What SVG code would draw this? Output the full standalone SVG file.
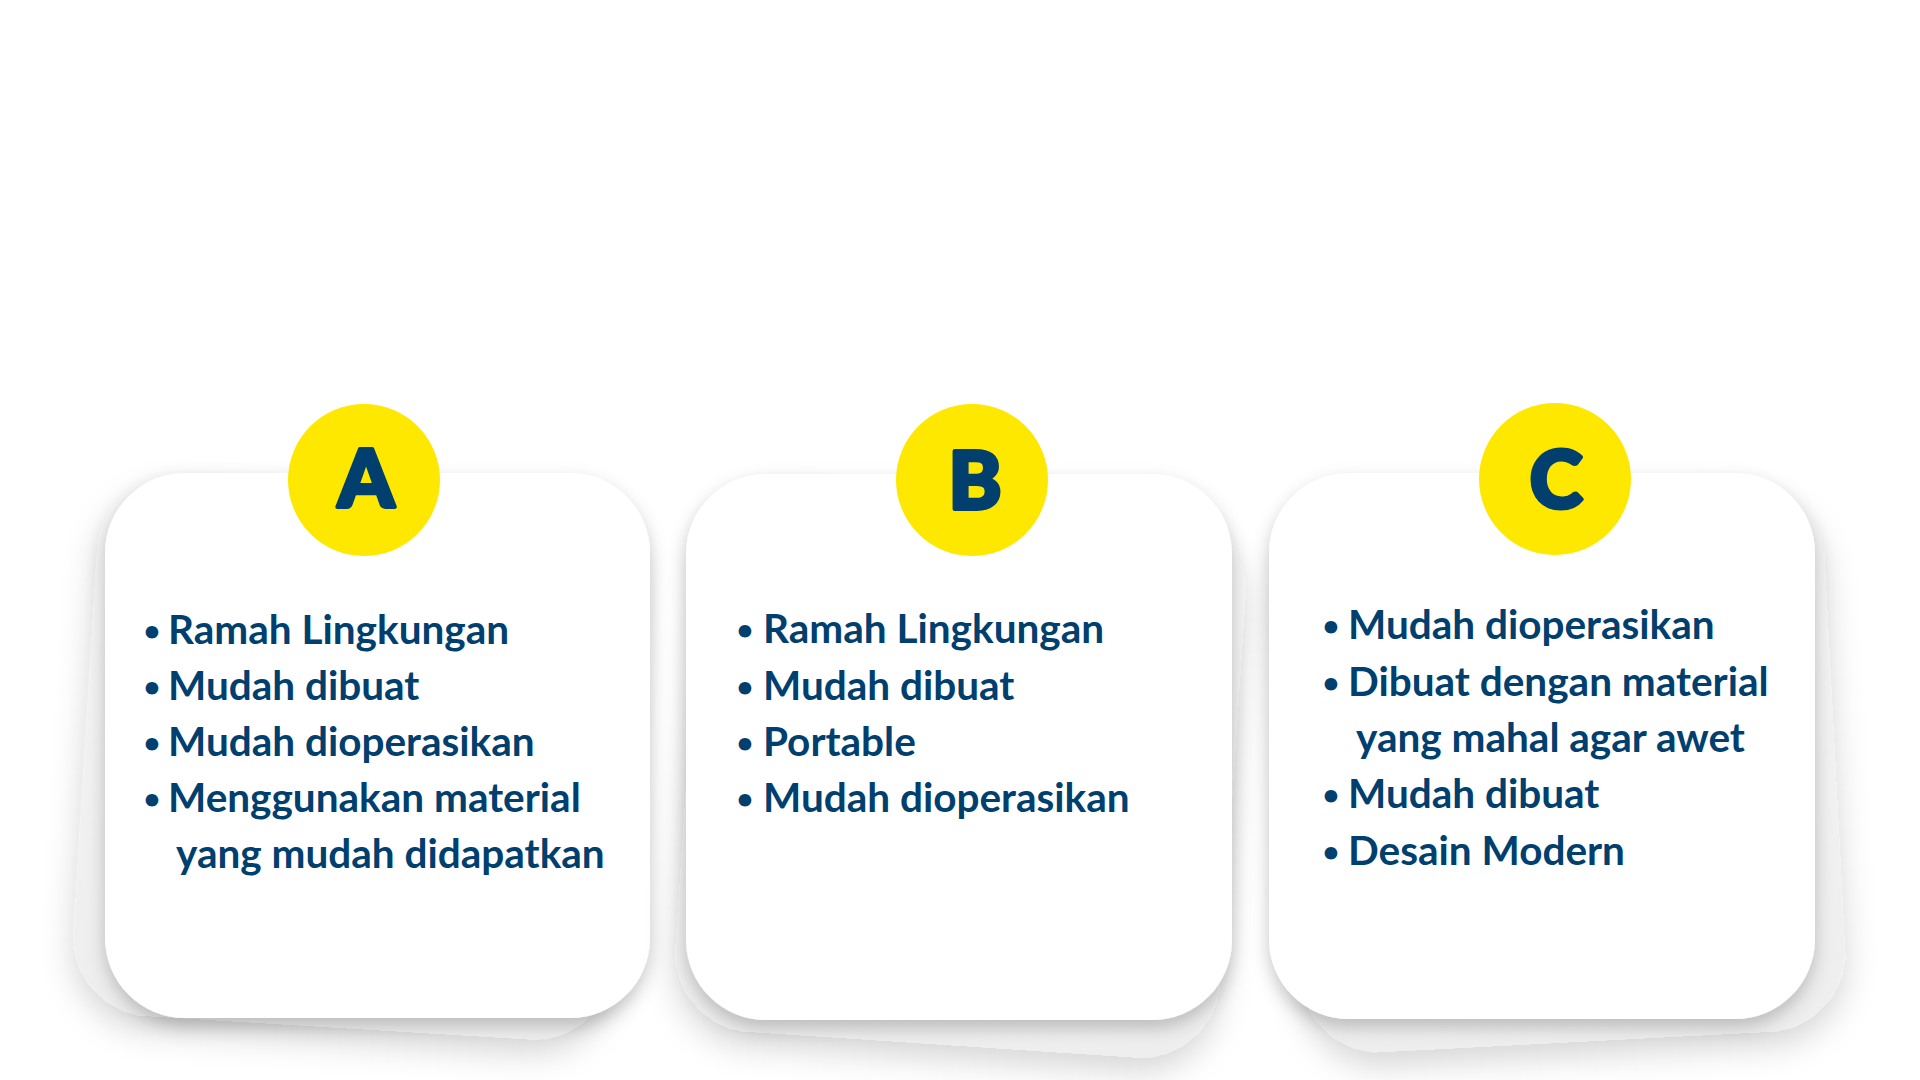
<svg xmlns="http://www.w3.org/2000/svg" width="1920" height="1080" viewBox="0 0 1920 1080">
  <defs>
    <filter id="shadowFront" x="-20%" y="-20%" width="140%" height="145%">
      <feDropShadow dx="0" dy="8" stdDeviation="9" flood-color="#000" flood-opacity="0.22"/>
    </filter>
    <filter id="shadowBack" x="-20%" y="-20%" width="140%" height="150%">
      <feDropShadow dx="0" dy="14" stdDeviation="16" flood-color="#000" flood-opacity="0.16"/>
    </filter>
    <linearGradient id="backFill" x1="0" y1="0" x2="0" y2="1">
      <stop offset="0" stop-color="#f5f5f5"/>
      <stop offset="1" stop-color="#eeeeee"/>
    </linearGradient>
  </defs>
  <style>
    .back { fill: url(#backFill); filter: url(#shadowBack); }
    .front { fill: #ffffff; filter: url(#shadowFront); }
    .badge { fill: #FFE800; }
    .letter { font-family: "Lato", "Liberation Sans", sans-serif; font-weight: 900; font-size: 80px; fill: #003F6E; stroke: #003F6E; stroke-width: 4; stroke-linejoin: round; text-anchor: middle; }
    .item { font-family: "Lato", "Liberation Sans", sans-serif; font-weight: 700; font-size: 40.5px; fill: #003F6E; }
    .bullet { font-family: "Lato", "Liberation Sans", sans-serif; font-weight: 700; font-size: 29px; fill: #003F6E; text-anchor: middle; }
  </style>
  <rect width="1920" height="1080" fill="#ffffff"/>

  <g id="card-a">
    <rect class="back" x="85" y="488" width="540" height="540" rx="80" transform="rotate(3.5 355 758)"/>
    <rect class="front" x="105" y="473" width="545" height="545" rx="80"/>
    <circle class="badge" cx="364" cy="480" r="76"/>
    <text class="letter" x="366" y="507">A</text>
    <text class="bullet" x="152" y="641">•</text>
    <text class="item" x="168" y="644">Ramah Lingkungan</text>
    <text class="bullet" x="152" y="697">•</text>
    <text class="item" x="168" y="700">Mudah dibuat</text>
    <text class="bullet" x="152" y="753">•</text>
    <text class="item" x="168" y="756">Mudah dioperasikan</text>
    <text class="bullet" x="152" y="809">•</text>
    <text class="item" x="168" y="812">Menggunakan material</text>
    <text class="item" x="176" y="868">yang mudah didapatkan</text>
  </g>

  <g id="card-b">
    <rect class="back" x="688" y="500" width="545" height="545" rx="80" transform="rotate(3.8 960 772)"/>
    <rect class="front" x="686" y="474" width="546" height="546" rx="80"/>
    <circle class="badge" cx="972" cy="480" r="76"/>
    <text class="letter" x="975" y="509">B</text>
    <text class="bullet" x="745" y="640">•</text>
    <text class="item" x="763" y="643">Ramah Lingkungan</text>
    <text class="bullet" x="745" y="697">•</text>
    <text class="item" x="763" y="700">Mudah dibuat</text>
    <text class="bullet" x="745" y="753">•</text>
    <text class="item" x="763" y="756">Portable</text>
    <text class="bullet" x="745" y="809">•</text>
    <text class="item" x="763" y="812">Mudah dioperasikan</text>
  </g>

  <g id="card-c">
    <rect class="back" x="1290" y="497" width="545" height="545" rx="80" transform="rotate(-3 1562 769)"/>
    <rect class="front" x="1269" y="473" width="546" height="546" rx="80"/>
    <circle class="badge" cx="1555" cy="479" r="76"/>
    <text class="letter" x="1556" y="508">C</text>
    <text class="bullet" x="1331" y="636">•</text>
    <text class="item" x="1348" y="639">Mudah dioperasikan</text>
    <text class="bullet" x="1331" y="693">•</text>
    <text class="item" x="1348" y="696">Dibuat dengan material</text>
    <text class="item" x="1356" y="752">yang mahal agar awet</text>
    <text class="bullet" x="1331" y="805">•</text>
    <text class="item" x="1348" y="808">Mudah dibuat</text>
    <text class="bullet" x="1331" y="862">•</text>
    <text class="item" x="1348" y="865">Desain Modern</text>
  </g>

  <g id="connectors"/>
</svg>
